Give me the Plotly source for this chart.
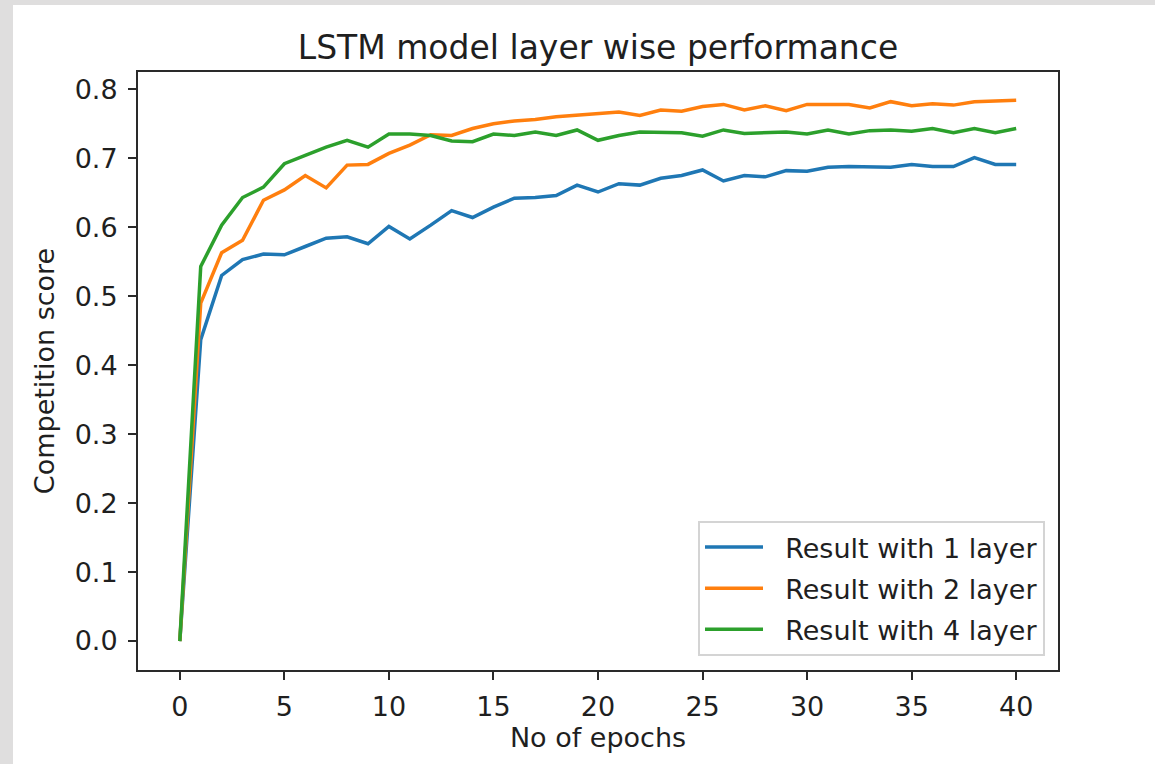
import plotly.graph_objects as go

# Competition score per training epoch for LSTM networks of different depth
epochs = list(range(41))

score_1_layer = [0.0, 0.437, 0.530, 0.553, 0.561, 0.560, 0.572, 0.584, 0.586, 0.576,
                 0.601, 0.583, 0.603, 0.624, 0.614, 0.629, 0.642, 0.643, 0.646, 0.661,
                 0.651, 0.663, 0.661, 0.671, 0.675, 0.683, 0.667, 0.675, 0.673, 0.682,
                 0.681, 0.687, 0.688, 0.688, 0.687, 0.691, 0.688, 0.688, 0.701, 0.691,
                 0.691]

score_2_layer = [0.0, 0.490, 0.563, 0.581, 0.639, 0.654, 0.675, 0.657, 0.690, 0.691,
                 0.707, 0.719, 0.734, 0.733, 0.743, 0.750, 0.754, 0.756, 0.760, 0.762,
                 0.765, 0.767, 0.762, 0.770, 0.768, 0.775, 0.778, 0.770, 0.776, 0.769,
                 0.778, 0.778, 0.778, 0.773, 0.782, 0.776, 0.779, 0.777, 0.782, 0.783,
                 0.784]

score_4_layer = [0.0, 0.543, 0.603, 0.643, 0.658, 0.692, 0.704, 0.716, 0.726, 0.716,
                 0.735, 0.735, 0.733, 0.725, 0.724, 0.735, 0.733, 0.738, 0.733, 0.741,
                 0.726, 0.733, 0.738, 0.737, 0.737, 0.732, 0.741, 0.736, 0.737, 0.738,
                 0.735, 0.741, 0.735, 0.740, 0.741, 0.739, 0.743, 0.737, 0.743, 0.737,
                 0.743]

series_names = ["Result with 1 layer", "Result with 2 layer", "Result with 4 layer"]
series_values = [score_1_layer, score_2_layer, score_4_layer]
series_colors = ["#1f77b4", "#ff7f0e", "#2ca02c"]

x_ticks = [0, 5, 10, 15, 20, 25, 30, 35, 40]
y_ticks = [0.0, 0.1, 0.2, 0.3, 0.4, 0.5, 0.6, 0.7, 0.8]

FONT = "DejaVu Sans"
TEXT = "#1f1f1f"
W, H = 1155, 764
ML, MR, MT, MB = 138, 97, 72, 94
PW, PH = W - ML - MR, H - MT - MB

fig = go.Figure()
for name, vals, col in zip(series_names, series_values, series_colors):
    fig.add_trace(go.Scatter(
        x=epochs, y=vals, mode="lines",
        # non-breaking spaces keep a gap between the legend swatch and its label
        name="\u00a0\u00a0" + name,
        legendgroup=name,
        line=dict(color=col, width=3.5),
    ))

axis_common = dict(
    showgrid=False, zeroline=False,
    showline=True, linecolor="#2a2a2a", linewidth=2, mirror=True,
    ticks="outside", ticklen=8, tickwidth=2, tickcolor="#2a2a2a",
    tickfont=dict(family=FONT, size=27, color=TEXT),
)

fig.update_layout(
    width=W, height=H,
    margin=dict(l=ML, r=MR, t=MT, b=MB, autoexpand=False),
    paper_bgcolor="white", plot_bgcolor="white",
    title=dict(text="LSTM model layer wise performance",
               font=dict(family=FONT, size=33, color=TEXT),
               x=(ML + PW / 2) / W, xanchor="center",
               y=1 - 47 / H, yanchor="middle"),
    xaxis=dict(range=[-2, 42], tickvals=x_ticks,
               ticktext=[str(v) for v in x_ticks],
               ticklabelstandoff=4,
               title=dict(text="No of epochs", standoff=6,
                          font=dict(family=FONT, size=27, color=TEXT)),
               **axis_common),
    yaxis=dict(range=[-0.042, 0.825], tickvals=y_ticks,
               ticktext=[f"{v:.1f}" for v in y_ticks],
               ticklabelstandoff=5,
               title=dict(text="Competition score", standoff=12,
                          font=dict(family=FONT, size=27, color=TEXT)),
               **axis_common),
    legend=dict(
        x=(1045 - ML) / PW, xanchor="right",
        y=(670 - 656) / PH, yanchor="bottom",
        bgcolor="rgba(255,255,255,0.85)",
        bordercolor="#d4d4d4", borderwidth=2,
        font=dict(family=FONT, size=27, color=TEXT),
        traceorder="grouped", tracegroupgap=3,
        itemwidth=58,
    ),
    showlegend=True,
)

# light grey frame strips along the top and left edges of the canvas
grey = "#dfdede"
fig.add_shape(type="rect", xref="paper", yref="paper",
              x0=-ML / PW, x1=(13 - ML) / PW,
              y0=-MB / PH - 0.01, y1=(PH + MT) / PH + 0.01,
              fillcolor=grey, line=dict(width=0), layer="below")
fig.add_shape(type="rect", xref="paper", yref="paper",
              x0=-ML / PW, x1=(W - ML) / PW + 0.01,
              y0=(PH + MT - 5) / PH, y1=(PH + MT) / PH + 0.01,
              fillcolor=grey, line=dict(width=0), layer="below")

fig.write_html("out.html")
